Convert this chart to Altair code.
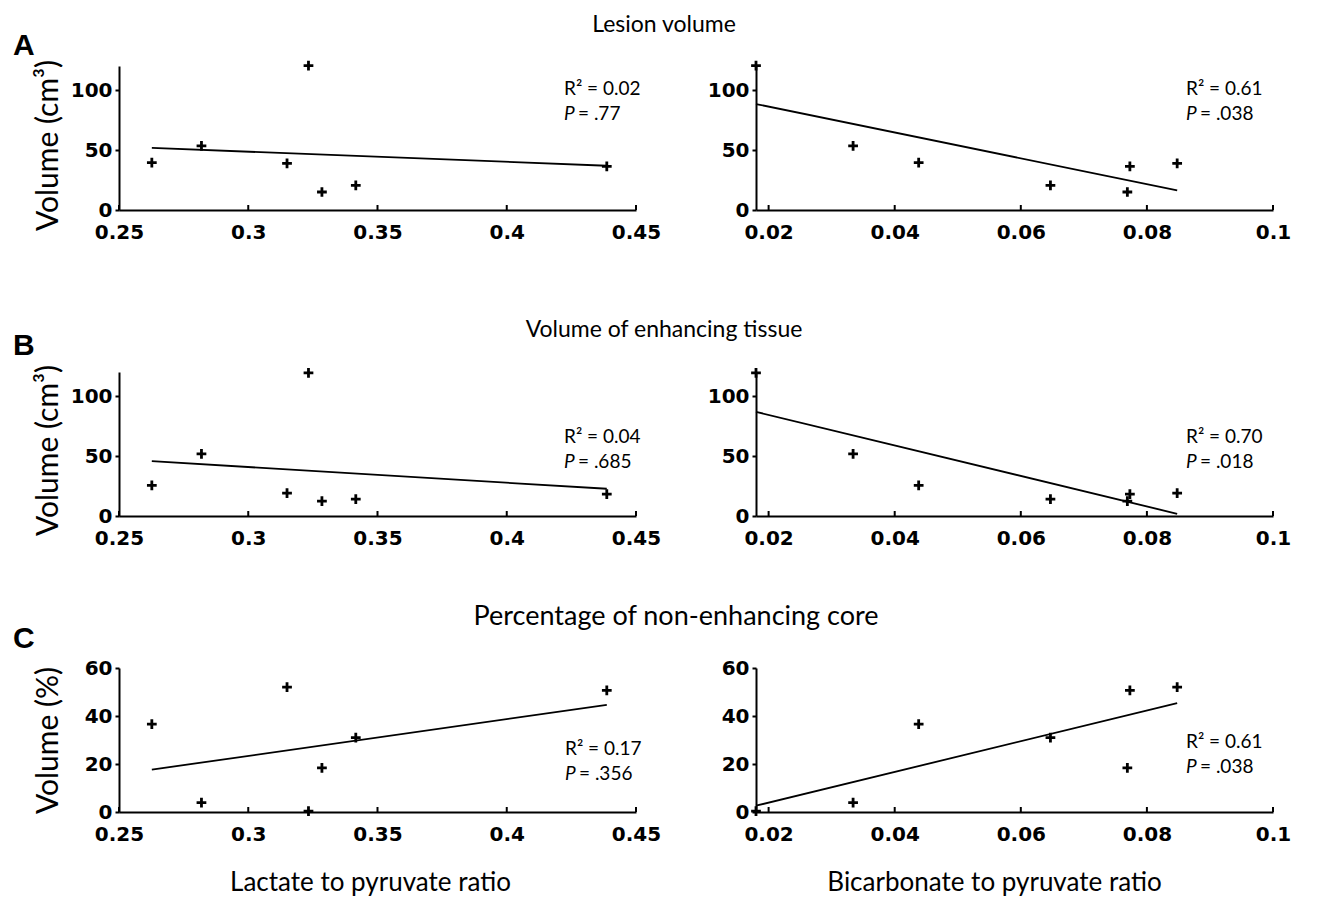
import altair as alt
import pandas as pd

# ---- data (one value per patient) ----
lactate = [0.2627, 0.2819, 0.3150, 0.3233, 0.3285, 0.3416, 0.4387]
bicarbonate = [0.0438, 0.0334, 0.0848, 0.0180, 0.0769, 0.0647, 0.0773]
lesion_volume = [39.4, 53.5, 38.9, 120.3, 15.0, 20.6, 36.3]
enhancing_volume = [25.6, 51.7, 19.1, 119.3, 12.4, 14.1, 18.3]
core_percentage = [36.6, 3.9, 52.0, 0.4, 18.4, 31.0, 50.7]

row_titles = ["Lesion volume", "Volume of enhancing tissue", "Percentage of non-enhancing core"]
row_letters = ["A", "B", "C"]
y_titles = ["Volume (cm³)", "Volume (cm³)", "Volume (%)"]
x_titles = ["Lactate to pyruvate ratio", "Bicarbonate to pyruvate ratio"]
lactate_ticks = [0.25, 0.3, 0.35, 0.4, 0.45]
bicarbonate_ticks = [0.02, 0.04, 0.06, 0.08, 0.1]
volume_ticks = [0, 50, 100]
percentage_ticks = [0, 20, 40, 60]
r2_lactate = ["0.02", "0.04", "0.17"]
p_lactate = [".77", ".685", ".356"]
r2_bicarbonate = ["0.61", "0.70", "0.61"]
p_bicarbonate = [".038", ".018", ".038"]

# ---- styling ----
W, H = 517, 144
LABEL_FONT = "DejaVu Sans"
TEXT_FONT = "Lato"
PLUS = "M -1 0 L 1 0 M 0 -1 L 0 1"

# annotation positions (pixels, relative to each plot area)
ann_left = [(445, 23), (445, 65), (446, 81)]
ann_right = [(430, 23), (430, 65), (430, 74)]
letter_y = [-20, -26, -29]
header_y = [-41, -42, -51]
header_x = [545, 545, 557]
header_size = [23, 23, 27]
ytitle_y = [79, 78, 72]


def text_layer(txt, x, y, size=19, style="normal", weight="normal", font=TEXT_FONT, align="left"):
    return alt.Chart(pd.DataFrame({"t": [txt]})).mark_text(
        align=align, baseline="middle", font=font, fontSize=size,
        fontStyle=style, fontWeight=weight, color="black"
    ).encode(text="t:N", x=alt.value(x), y=alt.value(y))


def panel(xv, yv, xdom, xticks, ydom, yticks, ytitle, xtitle, r2, pval, ann, row, left):
    df = pd.DataFrame({"x": xv, "y": yv})
    xaxis = dict(values=xticks, format="~g", ticks=False, labelPadding=12,
                 labelFlush=False, labelOverlap=False, domainWidth=2,
                 domainColor="black", labelFont=LABEL_FONT, labelFontSize=20,
                 labelFontWeight="bold", labelColor="black", grid=False)
    if xtitle:
        xaxis.update(title=xtitle, titleFont=TEXT_FONT, titleFontSize=26,
                     titleFontWeight="normal", titleColor="black", titlePadding=25,
                     titleX=251 if left else 238)
    else:
        xaxis.update(title=None)
    yaxis = dict(values=yticks, tickSize=4, tickWidth=2, tickColor="black",
                 labelPadding=3, domainWidth=2, domainColor="black",
                 labelFont=LABEL_FONT, labelFontSize=20, labelFontWeight="bold",
                 labelColor="black", minExtent=47, maxExtent=47, grid=False,
                 labelOverlap=False)
    if ytitle:
        yaxis.update(title=ytitle, titleFont=TEXT_FONT, titleFontSize=30,
                     titleFontWeight="normal", titleColor="black", titlePadding=9,
                     titleY=ytitle_y[row])
    else:
        yaxis.update(title=None)

    xs = alt.Scale(domain=xdom, nice=False, zero=False)
    ys = alt.Scale(domain=ydom, nice=False)

    pts = alt.Chart(df).mark_point(
        shape=PLUS, size=95, strokeWidth=2.8, color="black", filled=False, opacity=1
    ).encode(
        x=alt.X("x:Q", scale=xs, axis=alt.Axis(**xaxis)),
        y=alt.Y("y:Q", scale=ys, axis=alt.Axis(**yaxis)),
    )
    fit = alt.Chart(df).transform_regression("x", "y").mark_line(
        color="black", strokeWidth=1.8
    ).encode(x="x:Q", y="y:Q")
    tks = alt.Chart(pd.DataFrame({"x": xticks})).mark_rule(
        color="black", strokeWidth=2
    ).encode(x="x:Q", y=alt.value(H), y2=alt.value(H - 5))

    ax, ay = ann
    layers = [tks, fit, pts,
              text_layer("R² = " + r2, ax, ay),
              text_layer("P", ax, ay + 25, style="italic"),
              text_layer("= " + pval, ax + 14, ay + 25)]
    if left:
        layers.append(text_layer(row_letters[row], -106, letter_y[row], size=30,
                                 weight="bold", font="Liberation Sans"))
        layers.append(text_layer(row_titles[row], header_x[row], header_y[row],
                                 size=header_size[row], align="center"))
    return alt.layer(*layers).properties(width=W, height=H)


rows = []
ydata = [lesion_volume, enhancing_volume, core_percentage]
for i in range(3):
    ydom = [0, 60] if i == 2 else [0, 120]
    yt = percentage_ticks if i == 2 else volume_ticks
    last = i == 2
    left = panel(lactate, ydata[i], [0.25, 0.45], lactate_ticks, ydom, yt,
                 y_titles[i], x_titles[0] if last else None,
                 r2_lactate[i], p_lactate[i], ann_left[i], i, True)
    right = panel(bicarbonate, ydata[i], [0.018, 0.1], bicarbonate_ticks, ydom, yt,
                  None, x_titles[1] if last else None,
                  r2_bicarbonate[i], p_bicarbonate[i], ann_right[i], i, False)
    rows.append(alt.hconcat(left, right, spacing=120, bounds="flush"))

# with flush bounds the row groups count as zero height: spacing = top-to-top distance
lower = alt.vconcat(rows[1], rows[2], spacing=296, bounds="flush")
chart = alt.vconcat(rows[0], lower, spacing=306, bounds="flush").properties(
    padding={"left": 5, "top": 6, "right": 5, "bottom": 5}, background="white"
).configure_view(stroke=None)

chart.save("out.html", embed_options={"renderer": "svg", "actions": False})
